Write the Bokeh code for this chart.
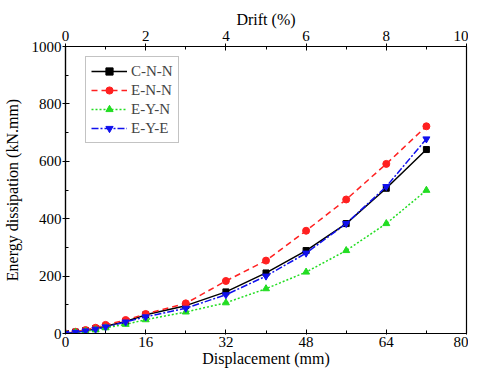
from bokeh.plotting import figure
from bokeh.models import LinearAxis, Range1d, Legend, LegendItem, FixedTicker
from bokeh.embed import file_html
from bokeh.resources import INLINE

disp = [0, 2, 4, 6, 8, 12, 16, 24, 32, 40, 48, 56, 64, 72]
cnn = [0, 5, 10, 17, 25, 42, 65, 97, 145, 211, 289, 383, 506, 641]
enn = [0, 6, 12, 20, 30, 47, 68, 105, 183, 254, 358, 467, 591, 722]
eyn = [0, 4, 8, 13, 20, 32, 48, 75, 107, 156, 214, 289, 383, 499]
eye = [0, 4, 9, 15, 23, 40, 58, 88, 135, 200, 280, 383, 512, 678]
x_ticks = [0, 16, 32, 48, 64, 80]
y_ticks = [0, 200, 400, 600, 800, 1000]
drift_ticks = [0, 2, 4, 6, 8, 10]

FONT = "Liberation Serif"

p = figure(width=468, height=369, output_backend="svg", toolbar_location=None,
           x_range=Range1d(0, 80), y_range=Range1d(0, 1000),
           min_border_left=60, min_border_right=2, min_border_top=46, min_border_bottom=34)
p.extra_x_ranges = {"drift": Range1d(0, 10)}
p.xgrid.visible = False
p.ygrid.visible = False
p.outline_line_color = "black"
p.outline_line_width = 1.2
p.background_fill_color = "white"
p.border_fill_color = "white"

def style_axis(ax):
    ax.axis_line_color = "black"
    ax.axis_line_width = 1.2
    ax.major_tick_in = 4
    ax.major_tick_out = 3
    ax.minor_tick_in = 3
    ax.minor_tick_out = 0
    ax.major_tick_line_color = "black"
    ax.minor_tick_line_color = "black"
    ax.major_label_text_font = FONT
    ax.major_label_text_font_size = "15px"
    ax.major_label_text_color = "black"
    ax.axis_label_text_font = FONT
    ax.axis_label_text_font_size = "16px"
    ax.axis_label_text_font_style = "normal"
    ax.axis_label_text_color = "black"
    ax.axis_label_standoff = 0
    ax.major_label_standoff = 1

p.xaxis.ticker = FixedTicker(ticks=x_ticks, minor_ticks=list(range(0, 81, 8)))
p.xaxis.axis_label = "Displacement (mm)"
p.yaxis.ticker = FixedTicker(ticks=y_ticks, minor_ticks=list(range(0, 1001, 100)))
p.yaxis.axis_label = "Energy dissipation (kN.mm)"
style_axis(p.xaxis[0])
style_axis(p.yaxis[0])
p.xaxis[0].major_tick_out = 1
p.xaxis[0].major_label_standoff = 2
p.yaxis[0].axis_label_standoff = 8

top = LinearAxis(x_range_name="drift", axis_label="Drift (%)",
                 ticker=FixedTicker(ticks=drift_ticks, minor_ticks=list(range(0, 11))))
style_axis(top)
top.major_label_standoff = 3
top.axis_label_standoff = 0
p.add_layout(top, "above")

r1l = p.line(disp, cnn, line_color="black", line_width=1.5)
r1m = p.scatter(disp, cnn, marker="square", size=6, color="black")
r2l = p.line(disp, enn, line_color="#ff2020", line_width=1.5, line_dash="6 4")
r2m = p.scatter(disp, enn, marker="circle", size=7, color="#ff2020")
r3l = p.line(disp, eyn, line_color="#22dd22", line_width=1.5, line_dash="2 2")
r3m = p.scatter(disp, eyn, marker="triangle", size=7, color="#22dd22")
r4l = p.line(disp, eye, line_color="#1010ee", line_width=1.5, line_dash="7 2 2 2")
r4m = p.scatter(disp, eye, marker="inverted_triangle", size=7, color="#1010ee")

legend = Legend(items=[
    LegendItem(label="C-N-N", renderers=[r1l, r1m]),
    LegendItem(label="E-N-N", renderers=[r2l, r2m]),
    LegendItem(label="E-Y-N", renderers=[r3l, r3m]),
    LegendItem(label="E-Y-E", renderers=[r4l, r4m]),
], location="top_left")
legend.label_text_font = FONT
legend.label_text_font_size = "15px"
legend.border_line_color = "#888888"
legend.border_line_width = 1
legend.margin = 0
legend.location = (20, 190)
legend.padding = 5
legend.spacing = 1
legend.glyph_width = 36
legend.label_standoff = 4
legend.label_height = 18
legend.glyph_height = 18
p.add_layout(legend)

open("out.html", "w").write(file_html(p, INLINE))
